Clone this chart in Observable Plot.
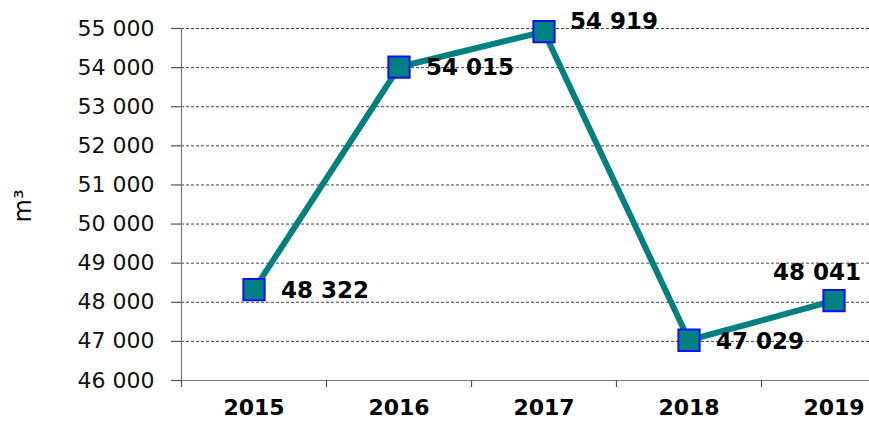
<!DOCTYPE html>
<html>
<head>
<meta charset="utf-8">
<script src="https://cdn.jsdelivr.net/npm/d3@7"></script>
<script src="https://cdn.jsdelivr.net/npm/@observablehq/plot@0.6"></script>
<style>
  html, body { margin: 0; padding: 0; background: #fff; }
  #chart svg { display: block; }
</style>
</head>
<body>
<div id="chart"></div>
<script>
const years = [2015, 2016, 2017, 2018, 2019];
const volumes = [48322, 54015, 54919, 47029, 48041];
const yTicks = [46000, 47000, 48000, 49000, 50000, 51000, 52000, 53000, 54000, 55000];
const unitLabel = "m³";

const data = years.map((year, i) => ({year, value: volumes[i]}));
const fmt = v => d3.format(",")(v).replace(/,/g, " ");
const bounds = d3.range(years.length + 1).map(i => years[0] - 0.5 + i);
const yMin = d3.min(yTicks), yMax = d3.max(yTicks);
const teal = "#008080";

const chart = Plot.plot({
  width: 869,
  height: 421,
  marginLeft: 181,
  marginRight: -37,
  marginTop: 28,
  marginBottom: 41,
  style: {fontFamily: "'DejaVu Sans', Verdana, sans-serif", fontSize: "22px", background: "#fff", color: "#000"},
  x: {domain: [bounds[0], bounds[bounds.length - 1]], axis: null},
  y: {domain: [yMin, yMax], axis: null},
  marks: [
    Plot.ruleY(yTicks.filter(v => v > yMin), {y: d => d, stroke: "#444", strokeWidth: 1, strokeDasharray: "3,2"}),
    Plot.ruleY([yMin], {stroke: "#777", strokeWidth: 1.2}),
    Plot.ruleX([bounds[0]], {stroke: "#777", strokeWidth: 1.2}),
    Plot.ruleY(yTicks, {y: d => d, x1: bounds[0], x2: bounds[0], insetLeft: -10, stroke: "#555", strokeWidth: 1.2}),
    Plot.ruleX(bounds, {x: d => d, y1: yMin, y2: yMin, insetBottom: -7, stroke: "#555", strokeWidth: 1.2}),
    Plot.text(yTicks, {y: d => d, frameAnchor: "left", textAnchor: "end", dx: -27, text: fmt, fontSize: 22, fill: "#111"}),
    Plot.text(years, {x: d => d, frameAnchor: "bottom", dy: 34, text: d => String(d), fontSize: 22, fontWeight: "bold", fill: "#000"}),
    Plot.text([unitLabel], {frameAnchor: "left", dx: -158, dy: 18, rotate: -90, text: d => d, fontSize: 24, fill: "#000"}),
    Plot.line(data, {x: "year", y: "value", stroke: teal, strokeWidth: 6}),
    Plot.dot(data, {x: "year", y: "value", symbol: "square", r: 12, fill: teal, stroke: "#1010ff", strokeWidth: 2}),
    Plot.text(data.filter((d, i) => i !== 2 && i !== 4), {x: "year", y: "value", text: d => fmt(d.value), textAnchor: "start", dx: 27, dy: 1, fontSize: 23, fontWeight: "bold", fill: "#000"}),
    Plot.text(data.filter((d, i) => i === 2), {x: "year", y: "value", text: d => fmt(d.value), textAnchor: "start", dx: 26, dy: -10, fontSize: 23, fontWeight: "bold", fill: "#000"}),
    Plot.text(data.filter((d, i) => i === 4), {x: "year", y: "value", text: d => fmt(d.value), textAnchor: "middle", dx: -17, dy: -28, fontSize: 23, fontWeight: "bold", fill: "#000"})
  ]
});
document.getElementById("chart").appendChild(chart);
</script>
</body>
</html>
